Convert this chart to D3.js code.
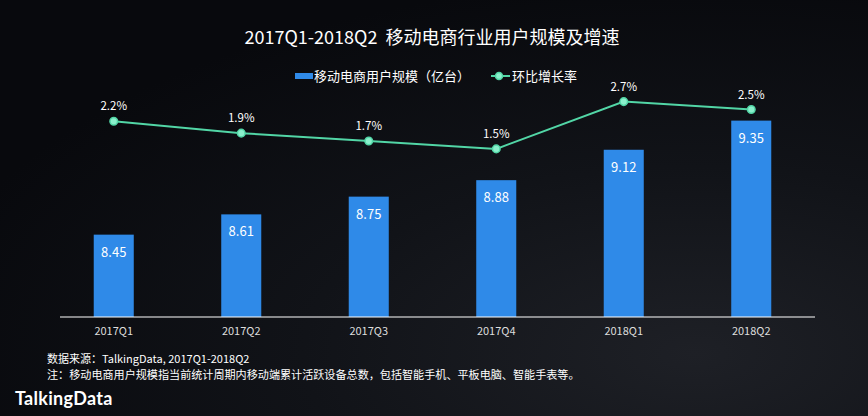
<!DOCTYPE html>
<html><head><meta charset="utf-8">
<script src="https://cdn.jsdelivr.net/npm/d3@7/dist/d3.min.js"></script>
<style>
html,body{margin:0;padding:0;background:#0b0d12;}
svg{display:block;font-family:"Noto Sans CJK SC","Noto Sans",sans-serif;}
.pre{white-space:pre;}
</style></head>
<body>
<svg id="chart" width="868" height="416"></svg>
<script>
const categories = ["2017Q1","2017Q2","2017Q3","2017Q4","2018Q1","2018Q2"];
const userScale = [8.45, 8.61, 8.75, 8.88, 9.12, 9.35];
const growthRate = [2.2, 1.9, 1.7, 1.5, 2.7, 2.5];
const growthLabels = ["2.2%","1.9%","1.7%","1.5%","2.7%","2.5%"];
const titleText = "2017Q1-2018Q2  移动电商行业用户规模及增速";
const legendBar = "移动电商用户规模（亿台）";
const legendLine = "环比增长率";
const sourceText = "数据来源：TalkingData, 2017Q1-2018Q2";
const noteText = "注：移动电商用户规模指当前统计周期内移动端累计活跃设备总数，包括智能手机、平板电脑、智能手表等。";

const svg = d3.select("#chart");
const W = 868, H = 416;
const barColor = "#2f8ae8", lineColor = "#52d6a6";

// background
const defs = svg.append("defs");
const rg = defs.append("radialGradient").attr("id","bg").attr("cx","0.8").attr("cy","0.85").attr("r","0.9");
rg.append("stop").attr("offset","0").attr("stop-color","#1e2026");
rg.append("stop").attr("offset","0.5").attr("stop-color","#111318");
rg.append("stop").attr("offset","1").attr("stop-color","#08090d");
svg.append("rect").attr("width",W).attr("height",H).attr("fill","url(#bg)");

const x = d3.scaleBand().domain(categories).range([50,815]).paddingInner(0.686).paddingOuter(0.343);
const yBar = d3.scaleLinear().domain([7.8, 9.8]).range([317, 63.6]);
const yLine = d3.scaleLinear().domain([0, 3]).range([208, 89.8]);

// title
svg.append("text").attr("class","pre").attr("x",432).attr("y",44).attr("text-anchor","middle")
  .attr("fill","#ffffff").attr("font-size",18).text(titleText);

// legend
svg.append("rect").attr("x",295).attr("y",73).attr("width",18).attr("height",6).attr("fill",barColor);
svg.append("text").attr("x",314).attr("y",81).attr("fill","#ffffff").attr("font-size",13).text(legendBar);
svg.append("line").attr("x1",491).attr("x2",510).attr("y1",76).attr("y2",76).attr("stroke",lineColor).attr("stroke-width",2);
svg.append("circle").attr("cx",499).attr("cy",76).attr("r",3.5).attr("fill","#8af0cc").attr("stroke",lineColor).attr("stroke-width",1.5);
svg.append("text").attr("x",512).attr("y",81).attr("fill","#ffffff").attr("font-size",13).text(legendLine);

// bars
const data = categories.map((c,i)=>({c, v:userScale[i], g:growthRate[i], gl:growthLabels[i]}));
svg.selectAll("rect.bar").data(data).enter().append("rect").attr("class","bar")
  .attr("x",d=>x(d.c)).attr("width",x.bandwidth())
  .attr("y",d=>yBar(d.v)).attr("height",d=>yBar.range()[0]-yBar(d.v))
  .attr("fill",barColor);
svg.selectAll("text.bv").data(data).enter().append("text").attr("class","bv")
  .attr("x",d=>x(d.c)+x.bandwidth()/2).attr("y",d=>yBar(d.v)+22)
  .attr("text-anchor","middle").attr("fill","#ffffff").attr("font-size",13)
  .text(d=>d.v.toFixed(2));

// axis
const axis = svg.append("g").attr("transform","translate(0,317)")
  .call(d3.axisBottom(x).tickSize(0).tickPadding(10));
axis.select(".domain").attr("d","M60,0H815").attr("stroke","#ffffff").attr("stroke-width",1.2);
axis.selectAll("text").attr("fill","#dddddd").attr("font-size",11)
  .attr("font-family","\"Noto Sans CJK SC\",sans-serif");

// line
const line = d3.line().x(d=>x(d.c)+x.bandwidth()/2).y(d=>yLine(d.g));
svg.append("path").datum(data).attr("d",line).attr("fill","none")
  .attr("stroke",lineColor).attr("stroke-width",2);
svg.selectAll("circle.pt").data(data).enter().append("circle").attr("class","pt")
  .attr("cx",d=>x(d.c)+x.bandwidth()/2).attr("cy",d=>yLine(d.g)).attr("r",3.8)
  .attr("fill","#8af0cc").attr("stroke",lineColor).attr("stroke-width",1.5);
svg.selectAll("text.gl").data(data).enter().append("text").attr("class","gl")
  .attr("x",d=>x(d.c)+x.bandwidth()/2).attr("y",d=>yLine(d.g)-11)
  .attr("text-anchor","middle").attr("fill","#ffffff").attr("font-size",11.5)
  .text(d=>d.gl);

// footer
svg.append("text").attr("x",47).attr("y",363).attr("fill","#ffffff").attr("font-size",11).text(sourceText);
svg.append("text").attr("x",47).attr("y",379).attr("fill","#ffffff").attr("font-size",11.1).text(noteText);
svg.append("text").attr("x",15).attr("y",405).attr("fill","#ffffff").attr("font-size",18)
  .attr("font-weight","bold").attr("letter-spacing",0.3)
  .attr("font-family","Lato, \"Noto Sans\", sans-serif").text("TalkingData");
</script>
</body></html>
